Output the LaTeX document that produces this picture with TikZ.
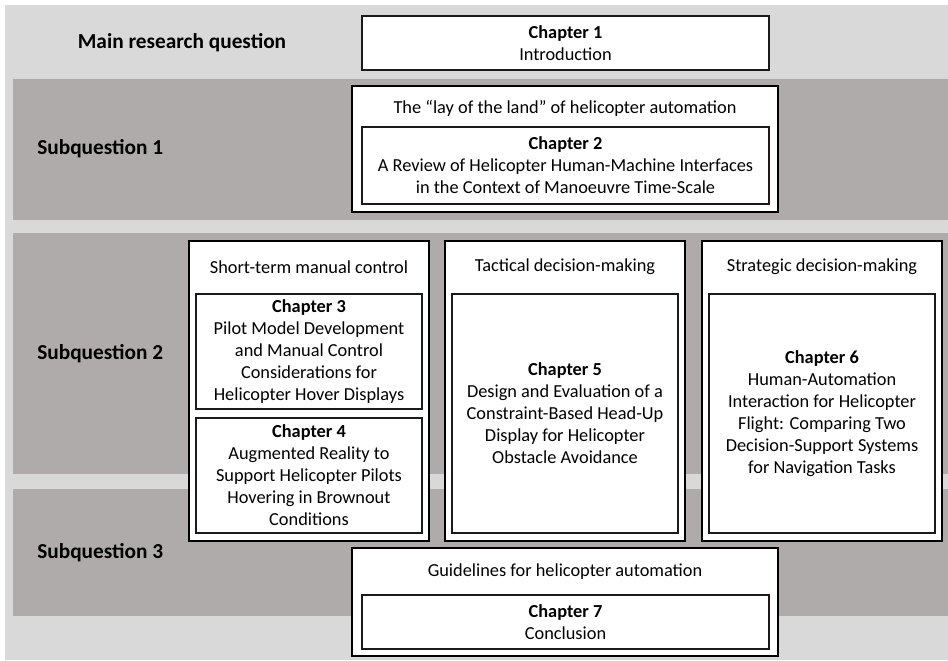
\documentclass[tikz,border=0pt]{standalone}
\usepackage{fontspec}
\setmainfont{Carlito}
\definecolor{bglight}{HTML}{D9D9D9}
\definecolor{bgdark}{HTML}{AFABAB}
\definecolor{edge}{HTML}{1A1A1A}
\begin{document}
\begin{tikzpicture}[x=0.75pt,y=-0.75pt,
  outerbox/.style={draw=black, line width=1.4pt, fill=white, inner sep=0pt},
  innerbox/.style={draw=edge, line width=1.0pt, fill=white, inner sep=0pt, align=center,
    font=\fontsize{13.75}{16.5}\selectfont},
  header/.style={inner sep=0pt, font=\fontsize{13.75}{16.5}\selectfont},
  rowlabel/.style={inner sep=0pt, font=\fontsize{16}{19}\selectfont\bfseries}]
\useasboundingbox (0,0) rectangle (948,660);
% background bands
\fill[bglight] (5,5) rectangle (948,660);
\fill[bgdark] (13,79) rectangle (948,220);
\fill[bgdark] (13,233) rectangle (948,474);
\fill[bgdark] (13,489) rectangle (948,616);
% row labels
\node[rowlabel] (lmain) at (182,43) {Main research question};
\node[rowlabel, anchor=west] (lsq1) at (37,149) {Subquestion 1};
\node[rowlabel, anchor=west] (lsq2) at (37,354) {Subquestion 2};
\node[rowlabel, anchor=west] (lsq3) at (37,553) {Subquestion 3};
% chapter 1
\node[innerbox, minimum width=305.25pt, minimum height=40.5pt] (ch1) at (565.5,43)
  {\textbf{Chapter 1}\\Introduction};
% subquestion 1
\node[outerbox, minimum width=319.5pt, minimum height=94.5pt] (sq1) at (565,149) {};
\node[header] (h1) at (565,108) {The “lay of the land” of helicopter automation};
\node[innerbox, minimum width=305.25pt, minimum height=57.75pt] (ch2) at (565.5,165.5)
  {\textbf{Chapter 2}\\A Review of Helicopter Human-Machine Interfaces\\in the Context of Manoeuvre Time-Scale};
% subquestion 2
\node[outerbox, minimum width=180pt, minimum height=225pt] (boxa) at (309,391) {};
\node[header] (ha) at (309,267) {Short-term manual control};
\node[innerbox, minimum width=169.5pt, minimum height=86.25pt] (ch3) at (309,351.5)
  {\textbf{Chapter 3}\\Pilot Model Development\\and Manual Control\\Considerations for\\Helicopter Hover Displays};
\node[innerbox, minimum width=169.5pt, minimum height=86.25pt] (ch4) at (309,475.5)
  {\textbf{Chapter 4}\\Augmented Reality to\\Support Helicopter Pilots\\Hovering in Brownout\\Conditions};
\node[outerbox, minimum width=180pt, minimum height=225pt] (boxb) at (565,391) {};
\node[header] (hb) at (565,267) {Tactical decision-making};
\node[innerbox, minimum width=169.5pt, minimum height=179.25pt] (ch5) at (565,413.5)
  {\textbf{Chapter 5}\\Design and Evaluation of a\\Constraint-Based Head-Up\\Display for Helicopter\\Obstacle Avoidance};
\node[outerbox, minimum width=180pt, minimum height=225pt] (boxc) at (822,391) {};
\node[header] (hc) at (822,267) {Strategic decision-making};
\node[innerbox, minimum width=169.5pt, minimum height=179.25pt] (ch6) at (822,413.5)
  {\textbf{Chapter 6}\\Human-Automation\\Interaction for Helicopter\\Flight: Comparing Two\\Decision-Support Systems\\for Navigation Tasks};
% subquestion 3
\node[outerbox, minimum width=319.5pt, minimum height=81pt] (sq3) at (565,602) {};
\node[header] (h3) at (565,572) {Guidelines for helicopter automation};
\node[innerbox, minimum width=305.25pt, minimum height=40.5pt] (ch7) at (565.5,622)
  {\textbf{Chapter 7}\\Conclusion};
\end{tikzpicture}
\end{document}
